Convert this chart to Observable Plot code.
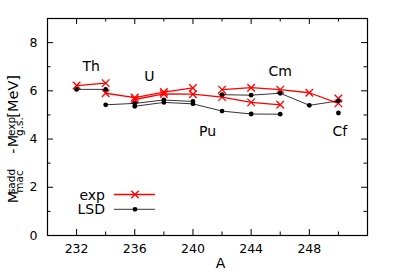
<!DOCTYPE html>
<html><head><meta charset="utf-8">
<script src="https://cdn.jsdelivr.net/npm/d3@7"></script>
<script src="https://cdn.jsdelivr.net/npm/@observablehq/plot@0.6"></script>
<style>body{margin:0;background:#fff;} svg{display:block;}</style>
</head><body><div id="chart"></div>
<script>
// Mass numbers and barrier values per element
const A_Th = [232, 234];
const exp_Th = [6.22, 6.32];
const lsd_Th = [6.06, 6.06];

const A_U = [234, 236, 238, 240];
const exp_U = [5.90, 5.72, 5.95, 6.12];
const lsd_U = [5.42, 5.48, 5.62, 5.56];

const A_Pu = [236, 238, 240, 242, 244, 246];
const exp_Pu = [5.64, 5.87, 5.86, 5.74, 5.52, 5.42];
const lsd_Pu = [5.36, 5.52, 5.46, 5.16, 5.04, 5.03];

const A_Cm = [242, 244, 246, 248, 250];
const exp_Cm = [6.05, 6.13, 6.05, 5.92, 5.48];
const lsd_Cm = [5.84, 5.82, 5.90, 5.40, 5.58];

const A_Cf = [250];
const exp_Cf = [5.68];
const lsd_Cf = [5.08];

// element labels
const labelNames = ["Th", "U", "Pu", "Cm", "Cf"];
const labelA = [233, 237, 241, 246, 250.1];
const labelE = [7.0, 6.6, 4.3, 6.8, 4.3];

// ticks
const xMajor = [232, 236, 240, 244, 248];
const xMinor = [234, 238, 242, 246, 250];
const yMajor = [0, 2, 4, 6, 8];
const yMinor = [1, 3, 5, 7];

const series = [
  {el: "Th", A: A_Th, exp: exp_Th, lsd: lsd_Th},
  {el: "U", A: A_U, exp: exp_U, lsd: lsd_U},
  {el: "Pu", A: A_Pu, exp: exp_Pu, lsd: lsd_Pu},
  {el: "Cm", A: A_Cm, exp: exp_Cm, lsd: lsd_Cm},
  {el: "Cf", A: A_Cf, exp: exp_Cf, lsd: lsd_Cf}
];
const rows = series.flatMap(s => s.A.map((a, i) => ({el: s.el, A: a, exp: s.exp[i], lsd: s.lsd[i]})));
const labels = labelNames.map((n, i) => ({n, A: labelA[i], E: labelE[i]}));

const W = 395, H = 276, mL = 47, mR = 28, mT = 18, mB = 41;
const pw = W - mL - mR, ph = H - mT - mB;
const RED = "#ff0000";
const FF = "'DejaVu Sans', sans-serif";

const plot = Plot.plot({
  width: W, height: H,
  marginLeft: mL, marginRight: mR, marginTop: mT, marginBottom: mB,
  style: {fontFamily: FF, fontSize: "12.5px", background: "#fff", color: "#000"},
  x: {domain: [230, 252]},
  y: {domain: [0, 9]},
  marks: [
    Plot.line(rows, {x: "A", y: "exp", z: "el", stroke: RED, strokeWidth: 1.3}),
    Plot.dot(rows, {x: "A", y: "exp", symbol: "times", r: 3.5, stroke: RED, strokeWidth: 1.3}),
    Plot.line(rows, {x: "A", y: "lsd", z: "el", stroke: "#000", strokeWidth: 0.8}),
    Plot.dot(rows, {x: "A", y: "lsd", r: 2.4, fill: "#000", stroke: "none"}),
    Plot.text(labels, {x: "A", y: "E", text: "n", fontSize: 14, fill: "#000"}),
    // inward ticks
    Plot.tickX(xMajor, {x: d => d, insetTop: ph - 6, stroke: "#000"}),
    Plot.tickX(xMinor, {x: d => d, insetTop: ph - 3.5, stroke: "#000"}),
    Plot.tickX(xMajor, {x: d => d, insetBottom: ph - 6, stroke: "#000"}),
    Plot.tickX(xMinor, {x: d => d, insetBottom: ph - 3.5, stroke: "#000"}),
    Plot.tickY(yMajor, {y: d => d, insetRight: pw - 6, stroke: "#000"}),
    Plot.tickY(yMinor, {y: d => d, insetRight: pw - 3.5, stroke: "#000"}),
    Plot.tickY(yMajor, {y: d => d, insetLeft: pw - 6, stroke: "#000"}),
    Plot.tickY(yMinor, {y: d => d, insetLeft: pw - 3.5, stroke: "#000"}),
    Plot.axisX({ticks: xMajor, tickSize: 0, tickPadding: 9, label: null, tickFormat: d => String(d)}),
    Plot.axisY({ticks: yMajor, tickSize: 0, tickPadding: 10, label: null, tickFormat: d => String(d)}),
    Plot.text(["A"], {frameAnchor: "bottom", dx: 13, dy: 32, fontSize: 14, fill: "#000"}),
    Plot.frame({stroke: "#000", strokeWidth: 1.2})
  ]
});
document.getElementById("chart").appendChild(plot);

const svg = d3.select(plot);

// Y axis label with stacked sub/superscripts
const g = svg.append("g").attr("font-family", FF).attr("fill", "#000");
let cur = 0;
function piece(t, size, dy) {
  const el = g.append("text").attr("x", cur).attr("y", dy).attr("font-size", size).text(t);
  return el.node().getComputedTextLength();
}
function stack(sup, sub) {
  const w1 = piece(sup, 10.5, -3.8);
  const w2 = piece(sub, 10.5, 5);
  cur += Math.max(w1, w2);
}
cur += piece("M", 14.5, 0);
cur += 3;
stack("sadd", "mac");
cur += 5;
cur += piece("-", 14.5, 0);
cur += 5;
cur += piece("M", 14.5, 0);
cur += 2;
stack("exp", "g.s.");
cur += 11;
cur += piece("[MeV]", 14.5, 0);
g.attr("transform", `translate(18.3,197) rotate(-90)`);

// Legend
const lg = svg.append("g").attr("font-family", FF).attr("font-size", 14);
const lx1 = 114, lx2 = 155, lm = 135;
lg.append("text").attr("x", 105).attr("y", 195).attr("dy", "0.35em").attr("text-anchor", "end").text("exp");
lg.append("line").attr("x1", lx1).attr("x2", lx2).attr("y1", 194.5).attr("y2", 194.5).attr("stroke", RED).attr("stroke-width", 1.3);
lg.append("path").attr("d", d3.symbol(d3.symbolTimes, Math.PI * 3.5 * 3.5)()).attr("transform", `translate(${lm},194.5)`).attr("stroke", RED).attr("stroke-width", 1.3).attr("fill", "none");
lg.append("text").attr("x", 105).attr("y", 209.5).attr("dy", "0.35em").attr("text-anchor", "end").text("LSD");
lg.append("line").attr("x1", lx1).attr("x2", lx2).attr("y1", 209.3).attr("y2", 209.3).attr("stroke", "#000").attr("stroke-width", 0.8);
lg.append("circle").attr("cx", lm).attr("cy", 209.3).attr("r", 2.4).attr("fill", "#000");
</script>
</body></html>
